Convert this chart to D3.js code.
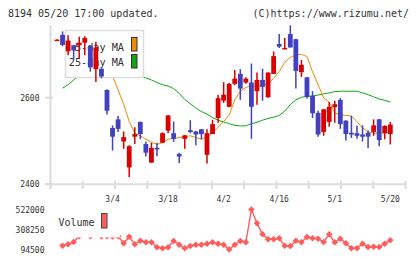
<!DOCTYPE html>
<html><head><meta charset="utf-8">
<script src="https://cdn.jsdelivr.net/npm/d3@7/dist/d3.min.js"></script>
<style>body{margin:0;background:#fff}svg{display:block}</style>
</head><body>
<script>
const dates = ["2/16","2/19","2/20","2/21","2/22","2/26","2/27","2/28","2/29","3/1",
  "3/4","3/5","3/6","3/7","3/8","3/11","3/12","3/13","3/14","3/15",
  "3/18","3/19","3/21","3/22","3/25","3/26","3/27","3/28","3/29","4/1",
  "4/2","4/3","4/4","4/5","4/8","4/9","4/10","4/11","4/12","4/15",
  "4/16","4/17","4/18","4/19","4/22","4/23","4/24","4/25","4/26","4/30",
  "5/1","5/2","5/7","5/8","5/9","5/10","5/13","5/14","5/15","5/17","5/20"];
const open = [2732,2745,2707,2721,2721,2727,2719,2666,2667,2618,2530,2550,2499,2439,2510,2544,2493,2450,2484,2496,
  2524,2518,2470,2505,2525,2522,2527,2468,2516,2553,2593,2579,2632,2655,2635,2635,2615,2641,2601,2655,
  2724,2712,2747,2735,2659,2647,2604,2565,2521,2544,2578,2595,2547,2519,2518,2515,2519,2521,2550,2518,2516];
const close = [2734,2722,2732,2709,2727,2738,2670,2716,2649,2570,2510,2528,2509,2488,2516,2516,2473,2484,2483,2518,
  2559,2505,2464,2513,2521,2515,2516,2518,2539,2599,2607,2632,2644,2621,2644,2579,2641,2625,2658,2696,
  2718,2715,2716,2662,2676,2602,2564,2515,2573,2579,2585,2539,2516,2515,2512,2510,2510,2536,2502,2535,2538];
const high = [2735,2753,2744,2722,2741,2742,2720,2729,2668,2619,2536,2558,2522,2490,2532,2545,2498,2496,2496,2520,
  2560,2545,2473,2514,2548,2523,2528,2527,2549,2607,2636,2634,2664,2666,2647,2679,2658,2667,2659,2707,
  2747,2738,2767,2736,2687,2648,2615,2570,2574,2590,2593,2599,2548,2558,2535,2536,2524,2550,2551,2536,2544];
const low = [2731,2719,2698,2688,2690,2698,2660,2636,2645,2561,2478,2521,2482,2417,2493,2504,2464,2450,2465,2496,
  2518,2498,2449,2482,2518,2490,2504,2448,2516,2542,2588,2578,2629,2595,2632,2505,2584,2593,2600,2655,
  2715,2712,2716,2621,2648,2598,2553,2510,2512,2533,2542,2528,2501,2507,2505,2499,2484,2512,2488,2504,2492];
const ma5 = [null,null,2725,2722,2720,2722,2715,2710,2700,2675,2650,2618,2585,2545,2518,2512,2504,2497,2492,2496,
  2504,2506,2508,2510,2512,2508,2504,2510,2519,2532,2545,2560,2595,2615,2624,2627,2626,2629,2632,2645,
  2660,2682,2693,2699,2700,2695,2660,2630,2600,2590,2565,2561,2559,2558,2545,2530,2521,2518,2518,2519,2520];
const ma25 = [null,2622,2630,2641,2651,2657,2661,2664,2666,2667,2666,2664,2661,2657,2653,2649,2646,2641,2635,2630,
  2627,2621,2610,2596,2586,2576,2568,2562,2554,2548,2544,2540,2536,2535,2535,2540,2543,2548,2552,2555,
  2559,2569,2584,2595,2601,2603,2604,2606,2609,2611,2614,2615,2615,2615,2615,2611,2607,2602,2597,2594,2590];
const volume = [null,135100,150100,174700,235600,270000,235600,265000,235000,236000,234000,236000,160800,231300,150100,188600,171500,171500,118000,107300,
  118000,185300,145800,107300,131900,145800,145800,156500,171500,156500,145800,94500,145800,185300,171500,522000,374500,257000,203500,203500,
  214200,135100,131900,188600,171500,228100,214200,209900,174700,257000,171500,209900,160800,107300,107300,156500,121200,124400,121200,156500,192800];
const xTickLabels = ["3/4","3/18","4/2","4/16","5/1","5/20"];
const priceTicks = [2400, 2600];
const volumeTicks = [94500, 308250, 522000];
const legendItems = ["5-day MA", "25-day MA"];

const W = 420, H = 259;
const UP = "#d80000", DOWN = "#4040c0", MA5C = "#f08a00", MA25C = "#10a810", VOLC = "#ff5c5c", AXC = "#dcdcdc";
const svg = d3.select("body").append("svg").attr("width", W).attr("height", H);

const x = d3.scaleLinear().domain([0, dates.length - 1]).range([57, 390.3]);
const y = d3.scaleLinear().domain([2400, 2600]).range([184.3, 97.7]);
const vy = d3.scaleLinear().domain([94500, 522000]).range([249.5, 209.5]);
const grid = d3.scaleLinear().domain([0, 11]).range([50.5, 405.5]);

const mono = "'DejaVu Sans Mono', monospace";
// header
svg.append("text").attr("x", 8).attr("y", 17).attr("font-family", mono).attr("font-size", 10).attr("fill", "#333").text("8194 05/20 17:00 updated.");
svg.append("text").attr("x", 409).attr("y", 17).attr("text-anchor", "end").attr("font-family", mono).attr("font-size", 10).attr("fill", "#333").text("(C)https://www.rizumu.net/");

// axes
svg.append("line").attr("x1", 50.5).attr("x2", 50.5).attr("y1", 25).attr("y2", 189).attr("stroke", AXC).attr("stroke-width", 2);
svg.append("line").attr("x1", 45).attr("x2", 406).attr("y1", y(2400)).attr("y2", y(2400)).attr("stroke", AXC).attr("stroke-width", 2);
svg.selectAll(".gt").data(d3.range(12)).enter().append("line")
  .attr("x1", d => grid(d)).attr("x2", d => grid(d)).attr("y1", 181).attr("y2", 189)
  .attr("stroke", AXC).attr("stroke-width", 2);
svg.selectAll(".yt").data(priceTicks).enter().append("line")
  .attr("x1", 45).attr("x2", 53).attr("y1", d => y(d)).attr("y2", d => y(d)).attr("stroke", AXC).attr("stroke-width", 2);
svg.selectAll(".yl").data(priceTicks).enter().append("text")
  .attr("x", 39.5).attr("y", d => y(d) + 3).attr("text-anchor", "end")
  .attr("font-family", mono).attr("font-size", 8).attr("fill", "#333").text(d => d);
svg.selectAll(".xl").data(xTickLabels).enter().append("text")
  .attr("x", d => x(dates.indexOf(d))).attr("y", 202).attr("text-anchor", "middle")
  .attr("font-family", mono).attr("font-size", 8).attr("fill", "#333").text(d => d);

// moving averages
const line = d3.line().defined(d => d[1] != null).x(d => x(d[0])).y(d => y(d[1]));
svg.append("path").datum(ma25.map((v, i) => [i, v])).attr("d", line).attr("fill", "none").attr("stroke", MA25C).attr("stroke-width", 1);
svg.append("path").datum(ma5.map((v, i) => [i, v])).attr("d", line).attr("fill", "none").attr("stroke", MA5C).attr("stroke-width", 1);

// legend (under candles)
const lg = svg.append("g");
lg.append("rect").attr("x", 65.5).attr("y", 30.5).attr("width", 78).attr("height", 47).attr("fill", "#fff").attr("stroke", "#ddd").attr("stroke-width", 1.5);
lg.selectAll("text").data(legendItems).enter().append("text")
  .attr("x", 124).attr("y", (d, i) => 50.5 + i * 15.5).attr("text-anchor", "end")
  .attr("font-family", mono).attr("font-size", 10.2).attr("fill", "#333").text(d => d);
lg.selectAll(".sw").data([MA5C, MA25C]).enter().append("rect")
  .attr("x", 131.5).attr("y", (d, i) => 37.5 + i * 17).attr("width", 5.5).attr("height", 13.5)
  .attr("fill", d => d).attr("stroke", "#333").attr("stroke-width", 1);

// candles
const cg = svg.append("g");
const idx = d3.range(dates.length);
cg.selectAll(".wick").data(idx).enter().append("line")
  .attr("x1", i => x(i)).attr("x2", i => x(i)).attr("y1", i => y(high[i])).attr("y2", i => y(low[i]))
  .attr("stroke", i => close[i] >= open[i] ? UP : DOWN).attr("stroke-width", 1.5);
cg.selectAll(".body").data(idx).enter().append("rect")
  .attr("x", i => x(i) - 2.4).attr("width", 4.8)
  .attr("y", i => y(Math.max(open[i], close[i])))
  .attr("height", i => Math.max(1.5, Math.abs(y(open[i]) - y(close[i]))))
  .attr("fill", i => close[i] >= open[i] ? UP : DOWN);

// volume
const vpts = volume.map((v, i) => [i, v]).filter(d => d[1] != null);
svg.append("path").datum(vpts).attr("d", d3.line().x(d => x(d[0])).y(d => vy(d[1])))
  .attr("fill", "none").attr("stroke", VOLC).attr("stroke-width", 1.4);
svg.selectAll(".vp").data(vpts).enter().append("path")
  .attr("d", "M0,-3.3L3.3,0L0,3.3L-3.3,0Z")
  .attr("transform", d => `translate(${x(d[0])},${vy(d[1])})`).attr("fill", VOLC);
svg.selectAll(".vl").data(volumeTicks).enter().append("text")
  .attr("x", 44.5).attr("y", d => vy(d) + 3).attr("text-anchor", "end")
  .attr("font-family", mono).attr("font-size", 8).attr("fill", "#333").text(d => d);
const vl = svg.append("g");
vl.append("rect").attr("x", 55).attr("y", 204).attr("width", 65).attr("height", 33.5).attr("fill", "#fff");
vl.append("text").attr("x", 58.5).attr("y", 225.5).attr("font-family", mono).attr("font-size", 10).attr("fill", "#333").text("Volume");
vl.append("rect").attr("x", 101.5).attr("y", 213.5).attr("width", 5.5).attr("height", 14.5).attr("fill", VOLC).attr("stroke", "#444").attr("stroke-width", 1);
</script>
</body></html>
